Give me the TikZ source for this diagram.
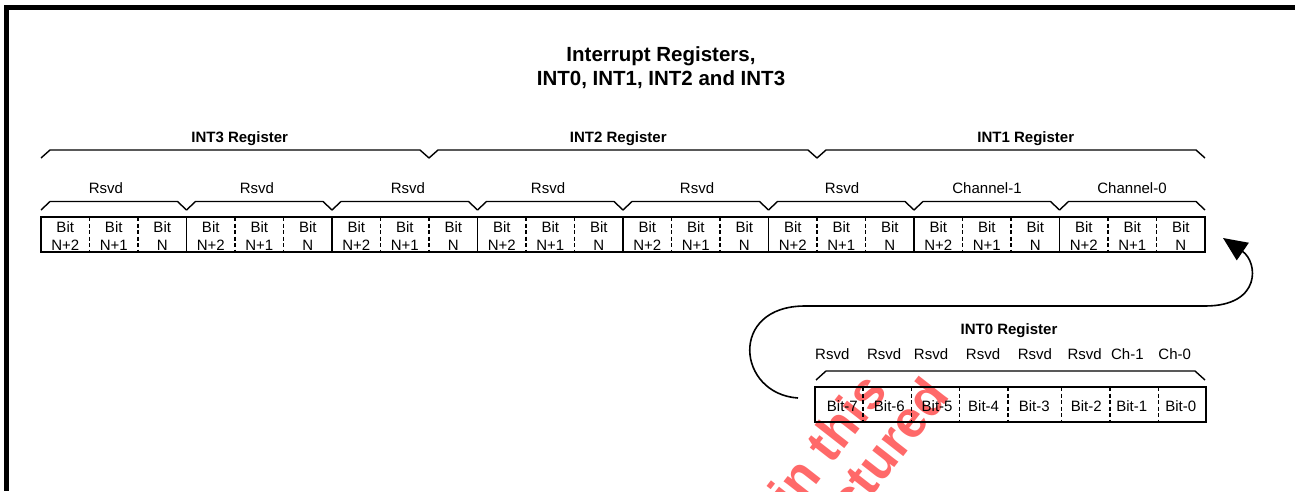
\documentclass[tikz,border=0pt]{standalone}
\usepackage{fontspec}
\setmainfont{Liberation Sans}
\usetikzlibrary{arrows.meta}
\definecolor{wmred}{RGB}{255,105,105}
\begin{document}
\begin{tikzpicture}[x=1pt,y=-1pt,
  txt/.style={inner sep=0pt, font=\fontsize{15}{18}\selectfont},
  btxt/.style={inner sep=0pt, font=\fontsize{15}{18}\selectfont\bfseries},
  celltxt/.style={inner sep=0pt, align=center, font=\fontsize{15}{18}\selectfont},
  regbox/.style={draw, line width=2pt, inner sep=0pt},
  solidsep/.style={line width=1.4pt},
  dashsep/.style={line width=1.4pt, dash pattern=on 4pt off 2.5pt},
  brace/.style={line width=1.4pt, line join=miter},
  loopline/.style={line width=1.6pt, -{Triangle[length=24pt,width=21pt]}},
  wm/.style={inner sep=0pt, text=wmred, font=\fontsize{52}{52}\selectfont\bfseries}
]
\useasboundingbox (0,0) rectangle (1295,491);
% watermark (behind everything)
\begin{scope}
\clip (0,0) rectangle (1295,491);
\node[wm, rotate=52, anchor=base east] (wm1) at (889,392) {in this};
\node[wm, rotate=52, anchor=base east] (wm2) at (951,396) {ctured};
\end{scope}
% frame
\fill (4,5) rectangle (1295,10);
\fill (4,5) rectangle (9,491);
% title
\node[inner sep=0pt, align=center, anchor=north, font=\fontsize{20.5}{24}\selectfont\bfseries] (title) at (661,46.7) {Interrupt Registers,\\INT0, INT1, INT2 and INT3};
% top register box
\node[regbox, minimum width=1164pt, minimum height=35pt] (reg) at (623,234.5) {};
\foreach \g in {1,...,7} {
  \draw[solidsep] ({41+145.5*\g},217) -- ({41+145.5*\g},252);
}
\foreach \g in {0,...,7} {
  \foreach \k in {1,2} {
    \draw[dashsep] ({41+145.5*\g+48.5*\k},217) -- ({41+145.5*\g+48.5*\k},252);
  }
  \node[celltxt] (b\g a) at ({41+145.5*\g+24.25},236) {Bit\\N+2};
  \node[celltxt] (b\g b) at ({41+145.5*\g+72.75},236) {Bit\\N+1};
  \node[celltxt] (b\g c) at ({41+145.5*\g+121.25},236) {Bit\\N};
  \draw[brace] ({41+145.5*\g},210) -- ({50+145.5*\g},201.5) -- ({177.5+145.5*\g},201.5) -- ({186.5+145.5*\g},210);
}
% group labels
\foreach \x/\lab [count=\i] in {106/Rsvd,257/Rsvd,408/Rsvd,548/Rsvd,697/Rsvd,842/Rsvd,987/Channel-1,1132/Channel-0} {
  \node[txt] (gl\i) at (\x,188.5) {\lab};
}
% big braces
\foreach \g in {0,1,2} {
  \draw[brace] ({41+388*\g},158) -- ({50+388*\g},150) -- ({420+388*\g},150) -- ({429+388*\g},158);
}
\node[btxt] (int3) at (239.7,138.5) {INT3 Register};
\node[btxt] (int2) at (618.3,138.5) {INT2 Register};
\node[btxt] (int1) at (1025.8,138.5) {INT1 Register};
% INT0 register
\node[regbox, minimum width=391pt, minimum height=35pt] (reg0) at (1010.5,404.5) {};
\foreach \x in {862.8,911.2,959.6,1007.9,1061.2,1109.9,1158.3} {
  \draw[dashsep] (\x,387) -- (\x,422);
}
\foreach \x/\lab [count=\i] in {842.4/Bit-7,889.4/Bit-6,937.1/Bit-5,983.6/Bit-4,1034.2/Bit-3,1086.3/Bit-2,1131.8/Bit-1,1180.7/Bit-0} {
  \node[txt] (z\i) at (\x,406) {\lab};
}
\foreach \x/\lab [count=\i] in {832.3/Rsvd,884.2/Rsvd,931/Rsvd,983/Rsvd,1034.9/Rsvd,1084.7/Rsvd,1127.4/Ch-1,1174.7/Ch-0} {
  \node[txt] (zl\i) at (\x,354.5) {\lab};
}
\draw[brace] (816,380) -- (826,371) -- (1195,371) -- (1205,380);
\node[btxt] (int0) at (1009,331) {INT0 Register};
% loop connector
\coordinate (loopstart) at (798,398);
\coordinate (looptop) at (805,306);
\coordinate (loopright) at (1205,306);
\coordinate (looptip) at (1223,238);
\draw[loopline] (loopstart) .. controls (737,394) and (728,306) .. (looptop) -- (loopright) .. controls (1262,306) and (1258,262) .. (looptip);
\end{tikzpicture}
\end{document}
